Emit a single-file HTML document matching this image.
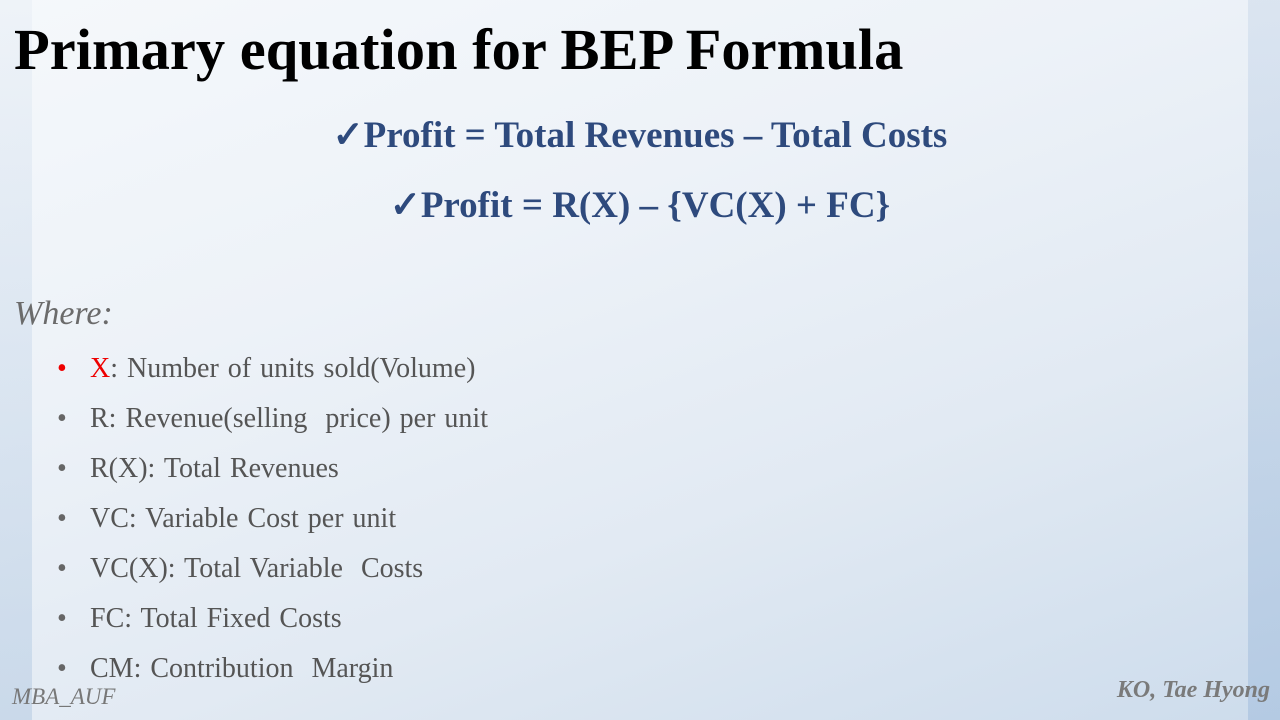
<!DOCTYPE html>
<html><head><meta charset="utf-8"><style>
html,body{margin:0;padding:0}
body{width:1280px;height:720px;overflow:hidden;position:relative;font-family:"Liberation Serif",serif;
background:linear-gradient(160deg,#f5f8fb 0%,#edf2f8 35%,#e2eaf3 65%,#cddcec 100%);}
.band-l{position:absolute;left:0;top:0;width:32px;height:720px;background:linear-gradient(180deg,rgba(200,215,232,0.15),rgba(170,195,222,0.45));}
.band-r{position:absolute;right:0;top:0;width:32px;height:720px;background:linear-gradient(180deg,rgba(180,200,225,0.3),rgba(160,188,220,0.55));}
.t{position:absolute;white-space:nowrap}
h1{position:absolute;left:14px;top:16px;margin:0;font-size:58.5px;font-weight:bold;color:#000;white-space:nowrap}
.eq{position:absolute;left:0;width:1280px;text-align:center;font-size:37px;font-weight:bold;color:#2e4a7d}
.where{left:14px;top:295px;font-size:34px;font-style:italic;color:#6b6b6b}
ul{position:absolute;left:56px;top:349px;margin:0;padding:0;list-style:none}
li{height:50px;font-size:28px;word-spacing:2px;color:#555;position:relative;padding-left:34px;line-height:40px}
li:before{content:"•";position:absolute;left:1px;top:0;color:#666;font-size:28px}
li.red:before{color:#e00}
.red-x{color:#e00}
.f1{left:12px;top:684px;font-size:23px;font-style:italic;color:#777}
.f2{right:10px;top:677px;font-size:24px;font-style:italic;font-weight:bold;color:#7a7a7a}
</style></head><body>
<div class="band-l"></div>
<div class="band-r"></div>
<h1>Primary equation for BEP Formula</h1>
<div class="eq" style="top:113px">✓Profit = Total Revenues – Total Costs</div>
<div class="eq" style="top:183px">✓Profit = R(X) – {VC(X) + FC}</div>
<div class="t where">Where:</div>
<ul>
<li class="red"><span class="red-x">X</span>: Number of units sold(Volume)</li>
<li>R: Revenue(selling&nbsp; price) per unit</li>
<li>R(X): Total Revenues</li>
<li>VC: Variable Cost per unit</li>
<li>VC(X): Total Variable&nbsp; Costs</li>
<li>FC: Total Fixed Costs</li>
<li>CM: Contribution&nbsp; Margin</li>
</ul>
<div class="t f1">MBA_AUF</div>
<div class="t f2">KO, Tae Hyong</div>
</body></html>
